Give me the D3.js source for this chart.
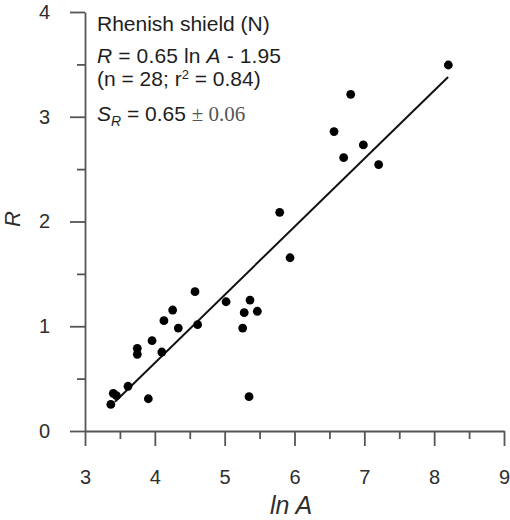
<!DOCTYPE html>
<html>
<head>
<meta charset="utf-8">
<script src="https://cdn.jsdelivr.net/npm/d3@7"></script>
<style>
  html, body { margin: 0; padding: 0; background: #fff; }
  svg { display: block; }
  .axis text { font-family: "Liberation Sans", Arial, sans-serif; font-size: 20px; fill: #2e2e2e; }
  .axis path, .axis line { stroke: #555; stroke-width: 1.8; }
  .note { font-family: "Liberation Sans", Arial, sans-serif; font-size: 21px; fill: #1e1e1e; }
</style>
</head>
<body>
<svg id="chart" width="510" height="520"></svg>
<script>
// ln A of each catchment
const lnA = [3.37, 3.405, 3.45, 3.616, 3.907, 3.749, 3.749, 3.96, 4.10, 4.13,
             4.255, 4.336, 4.575, 4.613, 5.02, 5.258, 5.28, 5.363, 5.468, 5.349,
             8.203, 6.805, 6.566, 6.986, 6.704, 7.205, 5.788, 5.936];
// R value of each catchment
const rVal = [0.254, 0.36, 0.337, 0.427, 0.308, 0.732, 0.789, 0.862, 0.754, 1.053,
              1.155, 0.983, 1.33, 1.015, 1.234, 0.983, 1.13, 1.25, 1.143, 0.328,
              3.494, 3.214, 2.858, 2.731, 2.609, 2.543, 2.088, 1.654];

// fitted line R = slope * ln A + intercept, drawn over the sampled ln A range
const fitSlope = 0.65;
const fitIntercept = -1.95;
const fitRange = [3.43, 8.2];

const xMajor = [3, 4, 5, 6, 7, 8, 9];
const xMinor = [3.5, 4.5, 5.5, 6.5, 7.5, 8.5];
const yMajor = [0, 1, 2, 3, 4];
const yMinor = [0.5, 1.5, 2.5, 3.5];

const svg = d3.select("#chart");

const x = d3.scaleLinear().domain([3, 9]).range([85, 504]);
const y = d3.scaleLinear().domain([0, 4]).range([431, 12]);

// x axis: long major ticks, short minor ticks
svg.append("g").attr("class", "axis")
  .attr("transform", `translate(0,${y(0)})`)
  .call(d3.axisBottom(x).tickValues(xMinor).tickSize(8).tickSizeOuter(0).tickFormat(""))
  .call(g => g.select(".domain").remove());
svg.append("g").attr("class", "axis")
  .attr("transform", `translate(0,${y(0)})`)
  .call(d3.axisBottom(x).tickValues(xMajor).tickSize(15).tickSizeOuter(0).tickPadding(24).tickFormat(d3.format("d")));

// y axis
svg.append("g").attr("class", "axis")
  .attr("transform", `translate(${x(3)},0)`)
  .call(d3.axisLeft(y).tickValues(yMinor).tickSize(8).tickSizeOuter(0).tickFormat(""))
  .call(g => g.select(".domain").remove());
svg.append("g").attr("class", "axis")
  .attr("transform", `translate(${x(3)},0)`)
  .call(d3.axisLeft(y).tickValues(yMajor).tickSize(15).tickSizeOuter(0).tickPadding(20).tickFormat(d3.format("d")));

// axis titles
svg.append("text")
  .attr("x", 291).attr("y", 514)
  .attr("text-anchor", "middle")
  .style("font-family", "Liberation Sans, Arial, sans-serif")
  .style("font-size", "25px").style("font-style", "italic").style("fill", "#2e2e2e")
  .text("ln A");

svg.append("text")
  .attr("transform", "translate(19.5,219) rotate(-90)")
  .attr("text-anchor", "middle")
  .style("font-family", "Liberation Sans, Arial, sans-serif")
  .style("font-size", "22px").style("font-style", "italic").style("fill", "#2e2e2e")
  .text("R");

// regression line
const line = d3.line().x(d => x(d)).y(d => y(fitSlope * d + fitIntercept));
svg.append("path")
  .datum(fitRange)
  .attr("d", line)
  .attr("fill", "none")
  .attr("stroke", "#111")
  .attr("stroke-width", 2);

// data points
svg.append("g").selectAll("circle")
  .data(d3.range(lnA.length))
  .join("circle")
  .attr("cx", i => x(lnA[i]))
  .attr("cy", i => y(rVal[i]))
  .attr("r", 4.4)
  .attr("fill", "#000");

// annotation block
const tx = 97;
svg.append("text").attr("class", "note").attr("x", tx).attr("y", 30.5)
  .text("Rhenish shield (N)");

const l2 = svg.append("text").attr("class", "note").attr("x", tx).attr("y", 62.5)
  .attr("textLength", 184).attr("lengthAdjust", "spacing");
l2.append("tspan").style("font-style", "italic").text("R");
l2.append("tspan").text(" = 0.65 ln ");
l2.append("tspan").style("font-style", "italic").text("A");
l2.append("tspan").text(" - 1.95");

const l3 = svg.append("text").attr("class", "note").attr("x", tx).attr("y", 85.5);
l3.append("tspan").text("(n = 28; r");
l3.append("tspan").attr("dy", -7).style("font-size", "13px").text("2");
l3.append("tspan").attr("dy", 7).text(" = 0.84)");

const l4 = svg.append("text").attr("class", "note").attr("x", tx).attr("y", 121);
l4.append("tspan").style("font-style", "italic").text("S");
l4.append("tspan").attr("dy", 5).style("font-style", "italic").style("font-size", "14px").text("R");
l4.append("tspan").attr("dy", -5).text(" = 0.65 ");
l4.append("tspan").style("font-family", "Liberation Serif, Times New Roman, serif").style("font-size", "21px").style("fill", "#555").text("± 0.06");
</script>
</body>
</html>
